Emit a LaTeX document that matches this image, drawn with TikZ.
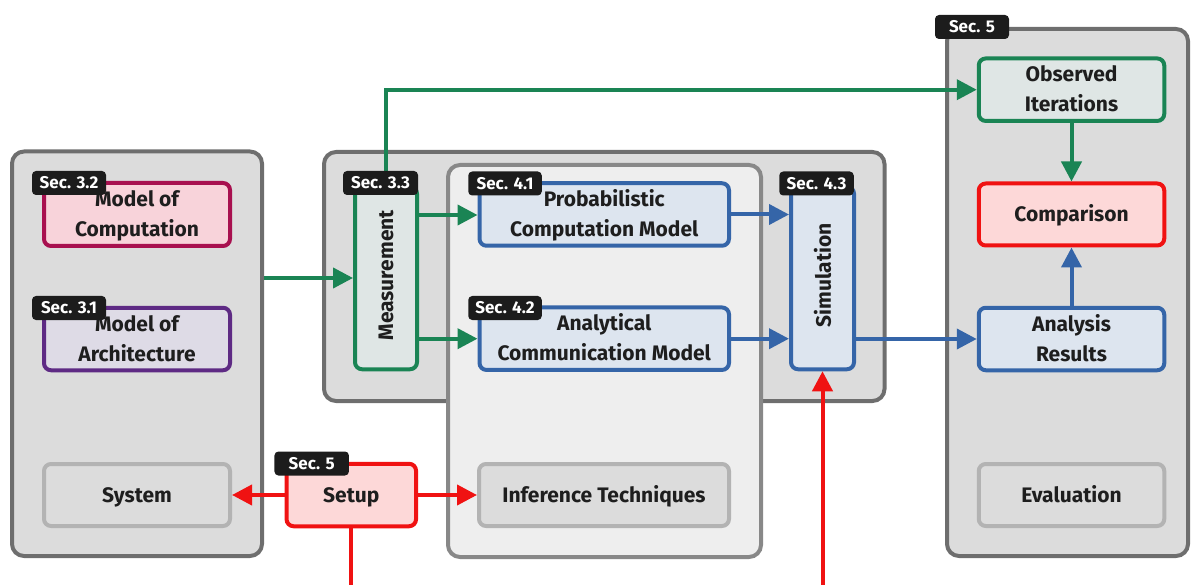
\documentclass[tikz,border=0pt]{standalone}
\usepackage{fontspec}
\setmainfont{Fira Sans}
\usetikzlibrary{arrows.meta}
\definecolor{contdraw}{HTML}{6E6E6E}
\definecolor{contfill}{HTML}{DCDCDC}
\definecolor{innerdraw}{HTML}{888888}
\definecolor{innerfill}{HTML}{EEEEEE}
\definecolor{graydraw}{HTML}{B3B3B3}
\definecolor{grayfill}{HTML}{DCDCDC}
\definecolor{cgreen}{HTML}{1A8454}
\definecolor{gfill}{HTML}{DFE6E5}
\definecolor{cblue}{HTML}{3565A8}
\definecolor{bfill}{HTML}{DDE5EF}
\definecolor{cred}{HTML}{F01212}
\definecolor{rfill}{HTML}{FDD8D8}
\definecolor{ccrim}{HTML}{A8104F}
\definecolor{crfill}{HTML}{F8D3DA}
\definecolor{cpurp}{HTML}{5E2A84}
\definecolor{pfill}{HTML}{DEDBE6}
\definecolor{tagbg}{HTML}{1C1C1C}
\definecolor{txt}{HTML}{1E1E1E}
\newcommand{\twoline}[2]{\begin{tabular}{@{}c@{}}\rule{0pt}{23.5pt}#1\\#2\end{tabular}}
\begin{document}
\begin{tikzpicture}[x=1pt,y=-1pt,
  container/.style={draw=contdraw, fill=contfill, line width=4pt, rounded corners=12pt, inner sep=0pt, anchor=center},
  innerbox/.style={draw=innerdraw, fill=innerfill, line width=4pt, rounded corners=12pt, inner sep=0pt, anchor=center},
  box/.style={line width=4pt, rounded corners=7pt, inner sep=0pt, align=center, anchor=center, text=txt,
    font=\bfseries\fontsize{21}{30}\selectfont,
    execute at begin node={\rule{0pt}{20pt}},
    execute at end node={\rule[-5.5pt]{0pt}{0pt}}},
  greenbox/.style={box, draw=cgreen, fill=gfill},
  bluebox/.style={box, draw=cblue, fill=bfill},
  redbox/.style={box, draw=cred, fill=rfill},
  crimbox/.style={box, draw=ccrim, fill=crfill},
  purpbox/.style={box, draw=cpurp, fill=pfill},
  graybox/.style={box, draw=graydraw, fill=grayfill},
  tag/.style={fill=tagbg, text=white, rounded corners=4pt, inner sep=0pt, anchor=center,
    minimum height=24pt, font=\bfseries\fontsize{17}{17}\selectfont},
  arr/.style={line width=4pt, -{Triangle[length=20pt,width=20pt]}},
  plain/.style={line width=4pt}
]
\useasboundingbox (0,0) rectangle (1191,585);

% containers
\node[container, minimum width=250pt, minimum height=404.5pt] (leftc) at (137,353.75) {};
\node[container, minimum width=560.5pt, minimum height=249pt] (midc) at (604.25,276.5) {};
\node[innerbox, minimum width=313pt, minimum height=392pt] (innc) at (604.5,361) {};
\node[container, minimum width=241pt, minimum height=527pt] (rightc) at (1067.5,292.5) {};

% nodes
\node[crimbox, minimum width=186pt, minimum height=63pt] (moc) at (137,214.5) {\twoline{Model of}{Computation}};
\node[purpbox, minimum width=186pt, minimum height=62pt] (moa) at (137,339) {\twoline{Model of}{Architecture}};
\node[graybox, minimum width=186pt, minimum height=62pt] (sys) at (137,495) {System};
\node[greenbox, minimum width=62pt, minimum height=182.5pt] (meas) at (386,278) {\rotatebox{90}{Measurement}};
\node[bluebox, minimum width=249.5pt, minimum height=62.5pt] (prob) at (604.25,214.5) {\twoline{Probabilistic}{Computation Model}};
\node[bluebox, minimum width=249.5pt, minimum height=62.5pt] (anal) at (604.25,338.7) {\twoline{Analytical}{Communication Model}};
\node[graybox, minimum width=250pt, minimum height=62pt] (infer) at (604,495) {Inference Techniques};
\node[bluebox, minimum width=63pt, minimum height=182.5pt] (sim) at (822.5,278) {\rotatebox{90}{Simulation}};
\node[redbox, minimum width=129.5pt, minimum height=62.5pt] (setup) at (351.3,495) {Setup};
\node[greenbox, minimum width=185.5pt, minimum height=61.5pt] (obs) at (1071.5,89.7) {\twoline{Observed}{Iterations}};
\node[redbox, minimum width=185.5pt, minimum height=62pt] (comp) at (1071.5,214.5) {Comparison};
\node[bluebox, minimum width=185.5pt, minimum height=62pt] (ares) at (1071.5,339) {\twoline{Analysis}{Results}};
\node[graybox, minimum width=185.5pt, minimum height=62pt] (eval) at (1071.5,495) {Evaluation};

\coordinate (setdown) at (351.3,592);
\coordinate (simup) at (822.5,592);

% connectors
\draw[arr, cgreen] (leftc.east |- meas.west) -- (meas.west);
\draw[arr, cgreen] (meas.north) -- (meas.north |- obs.west) -- (obs.west);
\draw[arr, cgreen] (meas.east |- 0,215) -- (prob.west |- 0,215);
\draw[arr, cgreen] (meas.east |- anal.west) -- (anal.west);
\draw[arr, cblue] (prob.east) -- (sim.west |- prob.east);
\draw[arr, cblue] (anal.east) -- (sim.west |- anal.east);
\draw[arr, cblue] (sim.east |- ares.west) -- (ares.west);
\draw[arr, cblue] (ares.north) -- (comp.south);
\draw[arr, cgreen] (obs.south) -- (comp.north);
\draw[arr, cred] (setup.west) -- (sys.east);
\draw[arr, cred] (setup.east) -- (infer.west);
\draw[plain, cred] (setup.south) -- (setdown);
\draw[arr, cred] (simup) -- (sim.south);

% tags
\node[tag, minimum width=74pt] (t32) at (69,183) {Sec. 3.2};
\node[tag, minimum width=74pt] (t31) at (69,308) {Sec. 3.1};
\node[tag, minimum width=75pt] (t33) at (380.5,183) {Sec. 3.3};
\node[tag, minimum width=73.5pt] (t41) at (505,183.5) {Sec. 4.1};
\node[tag, minimum width=73.5pt] (t42) at (505,308) {Sec. 4.2};
\node[tag, minimum width=74.5pt] (t43) at (816.5,183.5) {Sec. 4.3};
\node[tag, minimum width=74.5pt] (t5a) at (311.7,463.5) {Sec. 5};
\node[tag, minimum width=74pt] (t5b) at (972,27) {Sec. 5};
\end{tikzpicture}
\end{document}
